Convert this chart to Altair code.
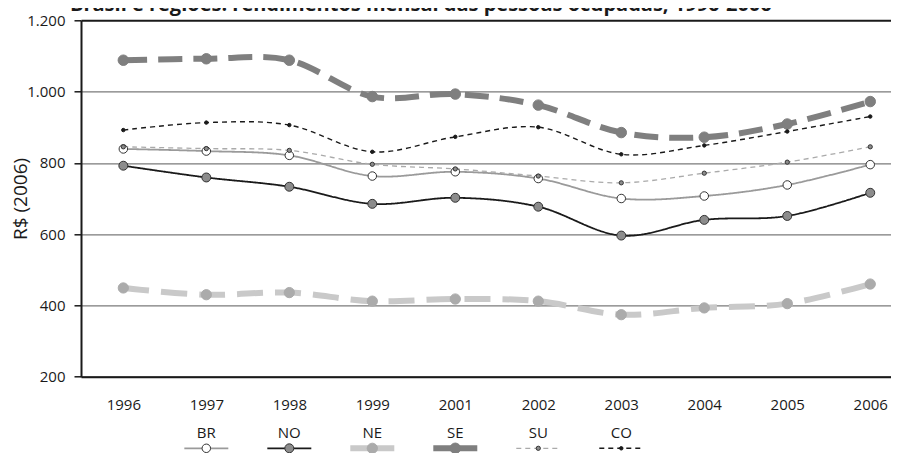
import altair as alt
import pandas as pd

# ---- data ----
years = ["1996", "1997", "1998", "1999", "2001", "2002", "2003", "2004", "2005", "2006"]
series = ["BR", "NO", "NE", "SE", "SU", "CO"]
br = [839, 833, 821, 763, 775, 756, 700, 707, 738, 795]
no = [792, 759, 733, 685, 702, 677, 596, 640, 651, 716]
ne = [449, 430, 436, 412, 418, 412, 374, 393, 405, 460]
se = [1088, 1092, 1088, 986, 993, 962, 885, 872, 909, 972]
su = [845, 840, 835, 796, 783, 763, 744, 771, 802, 845]
co = [892, 913, 906, 831, 873, 900, 824, 849, 888, 930]
y_ticks = [200, 400, 600, 800, 1000, 1200]
title_text = "Brasil e regiões: rendimentos mensal das pessoas ocupadas, 1996-2006"
y_title = "R$ (2006)"

vals = {"BR": br, "NO": no, "NE": ne, "SE": se, "SU": su, "CO": co}
rows = []
for s in series:
    for i, (yr, v) in enumerate(zip(years, vals[s])):
        rows.append({"serie": s, "ano": yr, "idx": i, "valor": v})
df = pd.DataFrame(rows)
legend_df = pd.DataFrame({"serie": series, "idx": [i + 1 for i in range(len(series))]})

FONT = "Open Sans"
INK = "#1a1a1a"
GRID = "#7a7a7a"


def oscale(rng):
    return alt.Scale(type="ordinal", domain=series, range=rng)


line_color = oscale(["#9a9a9a", INK, "#c9c9c9", "#7f7f7f", "#aaaaaa", INK])
line_dash = oscale([[1, 0], [1, 0], [26, 12], [24, 11], [5, 4], [5, 4]])
legend_dash = oscale([[1, 0], [1, 0], [1, 0], [1, 0], [5, 4], [5, 4]])
line_width = oscale([1.8, 1.8, 6, 6, 1.3, 1.4])
pt_fill = oscale(["#ffffff", "#8c8c8c", "#ababab", "#7f7f7f", "#8c8c8c", INK])
pt_stroke = oscale(["#333333", "#333333", "#ababab", "#7f7f7f", "#333333", INK])
pt_size = oscale([72, 80, 105, 110, 18, 12])

label_expr = "[" + ",".join("'%s'" % y for y in years) + "][datum.value]"
x_axis = alt.Axis(
    values=list(range(len(years))), labelExpr=label_expr, title=None, grid=False,
    ticks=False, domainColor=INK, domainWidth=2, labelFont=FONT, labelFontSize=15,
    labelColor=INK, labelPadding=28, labelBaseline="middle",
)
x_scale = alt.Scale(domain=[-0.51, 9.25], nice=False, zero=False)
y_scale = alt.Scale(domain=[200, 1200], nice=False, zero=False)
y_axis = alt.Axis(
    values=y_ticks, title=y_title,
    labelExpr="replace(format(datum.value, ','), ',', '.')",
    grid=True,
    gridColor=alt.condition("datum.value == 1200", alt.value(INK), alt.value(GRID)),
    gridWidth=alt.condition("datum.value == 1200", alt.value(2), alt.value(1.2)),
    domainColor=INK, domainWidth=2, tickColor=INK, tickSize=7, tickWidth=1.5,
    labelFont=FONT, labelFontSize=15, labelColor=INK, labelPadding=9,
    titleFont=FONT, titleFontSize=19, titleFontWeight="normal", titleColor=INK,
    titleX=-61, titleBaseline="middle",
)

base = alt.Chart(df)
lines = base.mark_line(interpolate="cardinal").encode(
    x=alt.X("idx:Q", scale=x_scale, axis=x_axis),
    y=alt.Y("valor:Q", scale=y_scale, axis=y_axis),
    stroke=alt.Stroke("serie:N", scale=line_color, legend=None),
    strokeDash=alt.StrokeDash("serie:N", scale=line_dash, legend=None),
    strokeWidth=alt.StrokeWidth("serie:N", scale=line_width, legend=None),
    detail="serie:N",
)
points = base.mark_point(filled=True, opacity=1, strokeWidth=1).encode(
    x=alt.X("idx:Q", scale=x_scale, axis=x_axis),
    y=alt.Y("valor:Q", scale=y_scale, axis=y_axis),
    fill=alt.Fill("serie:N", scale=pt_fill, legend=None),
    stroke=alt.Stroke("serie:N", scale=pt_stroke, legend=None),
    size=alt.Size("serie:N", scale=pt_size, legend=None),
)

LEG_SYM_Y = 428
LEG_LAB_Y = 413
leg = alt.Chart(legend_df).transform_calculate(x1="datum.idx - 0.265", x2="datum.idx + 0.265")
leg_rules = leg.mark_rule().encode(
    x=alt.X("x1:Q", scale=x_scale, axis=x_axis),
    x2="x2:Q",
    y=alt.value(LEG_SYM_Y),
    stroke=alt.Stroke("serie:N", scale=line_color, legend=None),
    strokeDash=alt.StrokeDash("serie:N", scale=legend_dash, legend=None),
    strokeWidth=alt.StrokeWidth("serie:N", scale=line_width, legend=None),
)
leg_points = leg.mark_point(filled=True, opacity=1, strokeWidth=1).encode(
    x=alt.X("idx:Q", scale=x_scale, axis=x_axis),
    y=alt.value(LEG_SYM_Y),
    fill=alt.Fill("serie:N", scale=pt_fill, legend=None),
    stroke=alt.Stroke("serie:N", scale=pt_stroke, legend=None),
    size=alt.Size("serie:N", scale=pt_size, legend=None),
)
leg_text = leg.mark_text(font=FONT, fontSize=15, baseline="middle", color=INK).encode(
    x=alt.X("idx:Q", scale=x_scale, axis=x_axis),
    y=alt.value(LEG_LAB_Y),
    text="serie:N",
)

chart = alt.layer(lines, points, leg_rules, leg_points, leg_text).resolve_scale(
    stroke="independent", strokeDash="independent", strokeWidth="independent",
    fill="independent", size="independent",
).properties(
    width=810,
    height=356.4,
    title=alt.TitleParams(
        text=title_text, anchor="start", frame="group", font=FONT, fontSize=20,
        fontWeight="bold", color=INK, dx=-11, dy=8, offset=6,
    ),
    autosize=alt.AutoSizeParams(type="none"),
    padding={"left": 73, "top": 12.3, "right": 0, "bottom": 76.3},
).configure_view(stroke=None)

chart.save("out.html", embed_options={"renderer": "svg", "actions": False})
